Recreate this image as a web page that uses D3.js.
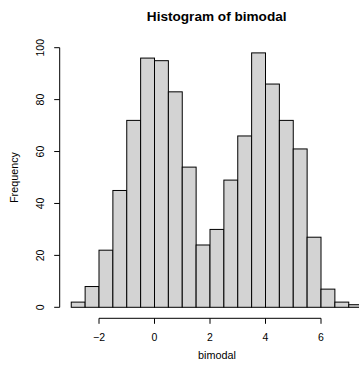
<!DOCTYPE html>
<html><head><meta charset="utf-8">
<script src="https://cdn.jsdelivr.net/npm/d3@7"></script>
<style>body{margin:0;background:#fff}svg{display:block}text{font-family:"Liberation Sans",Arial,sans-serif;fill:#000}</style>
</head><body>
<script>
const binStarts = [-3,-2.5,-2,-1.5,-1,-0.5,0,0.5,1,1.5,2,2.5,3,3.5,4,4.5,5,5.5,6,6.5,7];
const counts = [2,8,22,45,72,96,95,83,54,24,30,49,66,98,86,72,61,27,7,2,1];
const binWidth = 0.5;
const xTicks = [-2,0,2,4,6];
const yTicks = [0,20,40,60,80,100];

const W=359,H=368;
const svg=d3.select("body").append("svg").attr("width",W).attr("height",H);
const x=d3.scaleLinear().domain([-3,7]).range([71.25,348.75]);
const y=d3.scaleLinear().domain([0,100]).range([307.3,47.7]);

svg.append("g").selectAll("rect").data(binStarts).join("rect")
  .attr("x",(d)=>x(d)).attr("width",(d)=>x(d+binWidth)-x(d))
  .attr("y",(d,i)=>y(counts[i])).attr("height",(d,i)=>y(0)-y(counts[i]))
  .attr("fill","#d3d3d3").attr("stroke","#000").attr("stroke-width",1);

// x axis
const xa=svg.append("g").attr("transform","translate(0,318.3)");
xa.append("line").attr("x1",x(xTicks[0])).attr("x2",x(xTicks[xTicks.length-1])).attr("stroke","#000");
xa.selectAll("line.t").data(xTicks).join("line").attr("class","t")
  .attr("x1",d=>x(d)).attr("x2",d=>x(d)).attr("y1",0).attr("y2",5.5).attr("stroke","#000");
xa.selectAll("text").data(xTicks).join("text")
  .attr("x",d=>x(d)).attr("y",22.5).attr("text-anchor","middle").attr("font-size",10.5)
  .text(d=>d<0?"\u2212"+(-d):d);

// y axis
const ya=svg.append("g").attr("transform","translate(59.7,0)");
ya.append("line").attr("y1",y(0)).attr("y2",y(100)).attr("stroke","#000");
ya.selectAll("line.t").data(yTicks).join("line").attr("class","t")
  .attr("y1",d=>y(d)).attr("y2",d=>y(d)).attr("x1",0).attr("x2",-5.5).attr("stroke","#000");
ya.selectAll("text").data(yTicks).join("text")
  .attr("transform",d=>`translate(-16,${y(d)}) rotate(-90)`)
  .attr("text-anchor","middle").attr("font-size",10.5).text(d=>d);

svg.append("text").attr("x",216.7).attr("y",20.5).attr("text-anchor","middle")
  .attr("font-size",13.6).attr("font-weight","bold").text("Histogram of bimodal");
svg.append("text").attr("x",217).attr("y",359).attr("text-anchor","middle")
  .attr("font-size",10.8).text("bimodal");
svg.append("text").attr("transform",`translate(18,${(y(0)+y(100))/2}) rotate(-90)`)
  .attr("text-anchor","middle").attr("font-size",10.8).text("Frequency");
</script>
</body></html>
